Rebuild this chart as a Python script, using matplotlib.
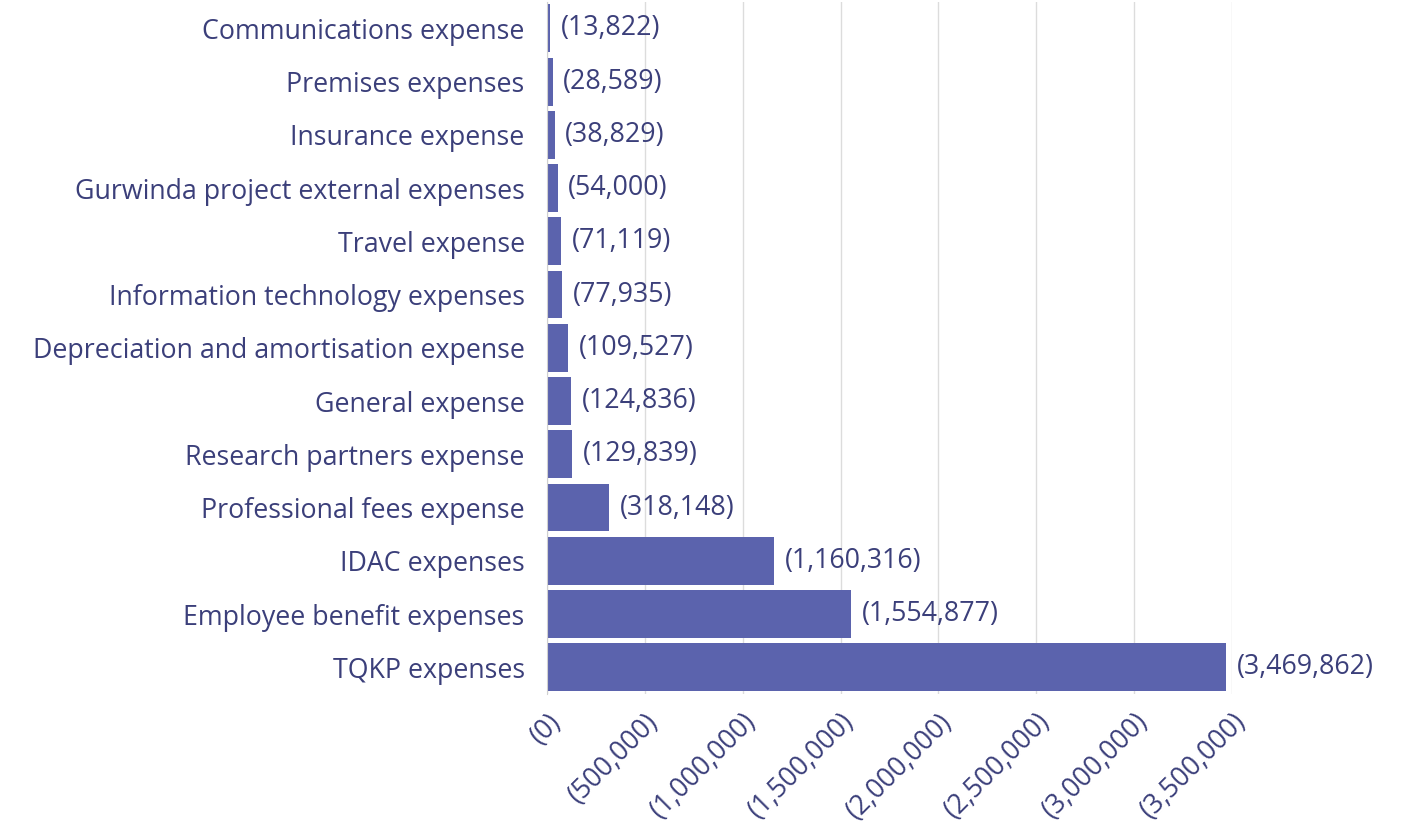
import matplotlib
matplotlib.use("Agg")
import matplotlib.pyplot as plt
from matplotlib.ticker import FuncFormatter

categories = [
    "Communications expense",
    "Premises expenses",
    "Insurance expense",
    "Gurwinda project external expenses",
    "Travel expense",
    "Information technology expenses",
    "Depreciation and amortisation expense",
    "General expense",
    "Research partners expense",
    "Professional fees expense",
    "IDAC expenses",
    "Employee benefit expenses",
    "TQKP expenses",
]
values = [13822, 28589, 38829, 54000, 71119, 77935, 109527,
          124836, 129839, 318148, 1160316, 1554877, 3469862]
xticks = [0, 500000, 1000000, 1500000, 2000000, 2500000, 3000000, 3500000]

bar_color = "#5b63ad"
text_color = "#3b3f7a"
fs = 19.3

plt.rcParams["font.family"] = ["Open Sans", "DejaVu Sans"]
plt.rcParams["font.weight"] = 500

fig = plt.figure(figsize=(14.05, 8.36), dpi=100)
ax = fig.add_axes([0.3893, 0.170, 0.4876, 0.828])

ypos = list(range(len(categories)))
ax.barh(ypos, values, height=0.9, color=bar_color, zorder=3)
for y, v in zip(ypos, values):
    ax.text(v + 55000, y, "({:,})".format(v), va="center", ha="left",
            fontsize=fs, color=text_color, zorder=4)

ax.set_yticks(ypos)
ax.set_yticklabels(categories, fontsize=fs, color=text_color)
ax.set_ylim(len(categories) - 0.5, -0.5)
ax.set_xlim(0, 3500000)
ax.set_xticks(xticks)
ax.xaxis.set_major_formatter(FuncFormatter(lambda v, p: "({:,})".format(int(v))))
for lab in ax.get_xticklabels():
    lab.set_rotation(45)
    lab.set_ha("right")
    lab.set_rotation_mode("anchor")
    lab.set_fontsize(fs)
    lab.set_color(text_color)

ax.tick_params(axis="both", length=0)
ax.tick_params(axis="y", pad=16)
ax.tick_params(axis="x", pad=10)
ax.grid(axis="x", color="#dcdcdc", linewidth=1, zorder=0)
for s in ["top", "right", "bottom"]:
    ax.spines[s].set_visible(False)
ax.spines["left"].set_color("#d0d0d0")
ax.spines["left"].set_zorder(5)

fig.savefig("out.png", dpi=100)
